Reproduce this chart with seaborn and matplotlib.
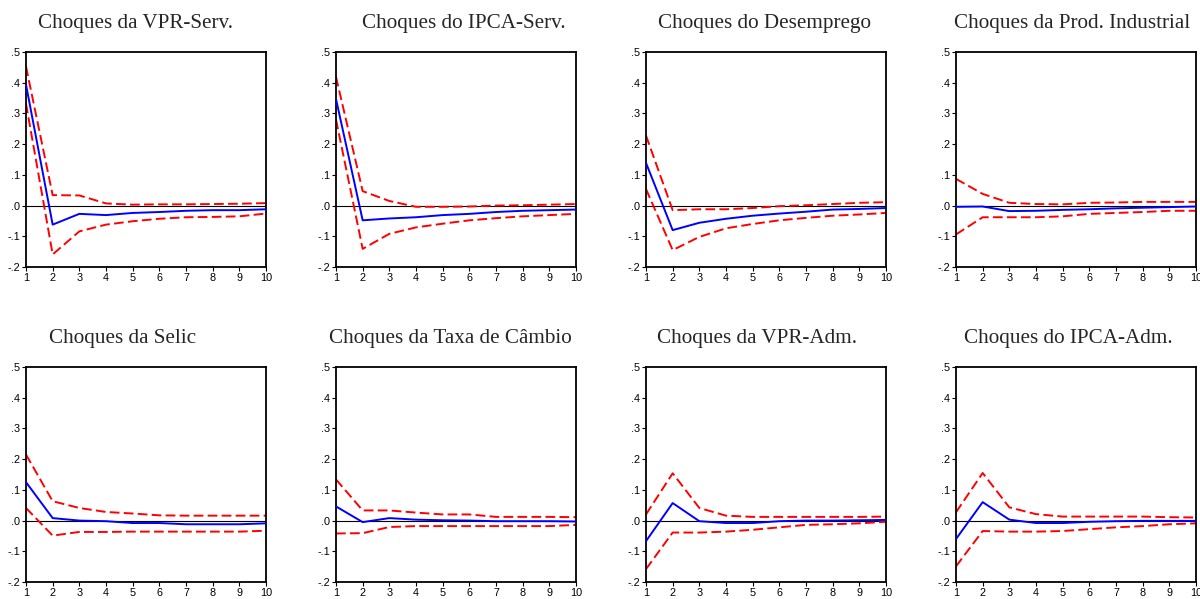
import numpy as np
import pandas as pd
import matplotlib
matplotlib.use("Agg")
import matplotlib.pyplot as plt
import seaborn as sns

# ---------------- data ----------------
periods = [1, 2, 3, 4, 5, 6, 7, 8, 9, 10]

titles = [
    "Choques da VPR-Serv.", "Choques do IPCA-Serv.", "Choques do Desemprego",
    "Choques da Prod. Industrial", "Choques da Selic", "Choques da Taxa de Câmbio",
    "Choques da VPR-Adm.", "Choques do IPCA-Adm.",
]

resp_vpr_serv = [0.394, -0.062, -0.027, -0.031, -0.024, -0.021, -0.017, -0.015, -0.015, -0.012]
up_vpr_serv = [0.453, 0.034, 0.033, 0.007, 0.003, 0.004, 0.004, 0.005, 0.006, 0.008]
lo_vpr_serv = [0.332, -0.159, -0.084, -0.062, -0.051, -0.043, -0.038, -0.037, -0.035, -0.026]

resp_ipca_serv = [0.347, -0.048, -0.042, -0.038, -0.031, -0.027, -0.021, -0.017, -0.015, -0.013]
up_ipca_serv = [0.419, 0.047, 0.015, -0.004, -0.004, -0.003, 0.000, 0.001, 0.003, 0.005]
lo_ipca_serv = [0.280, -0.141, -0.092, -0.071, -0.059, -0.048, -0.041, -0.035, -0.031, -0.027]

resp_desemp = [0.139, -0.080, -0.056, -0.043, -0.033, -0.026, -0.020, -0.013, -0.011, -0.008]
up_desemp = [0.228, -0.015, -0.012, -0.012, -0.008, -0.002, 0.001, 0.005, 0.009, 0.011]
lo_desemp = [0.054, -0.145, -0.102, -0.074, -0.060, -0.048, -0.040, -0.033, -0.029, -0.024]

resp_prod = [-0.004, -0.003, -0.018, -0.017, -0.014, -0.012, -0.009, -0.007, -0.005, -0.003]
up_prod = [0.087, 0.038, 0.009, 0.005, 0.004, 0.009, 0.010, 0.012, 0.012, 0.012]
lo_prod = [-0.094, -0.038, -0.038, -0.038, -0.035, -0.027, -0.024, -0.021, -0.017, -0.017]

resp_selic = [0.125, 0.008, 0.000, -0.002, -0.008, -0.008, -0.012, -0.012, -0.012, -0.009]
up_selic = [0.215, 0.063, 0.041, 0.028, 0.023, 0.017, 0.016, 0.016, 0.016, 0.016]
lo_selic = [0.041, -0.049, -0.037, -0.037, -0.036, -0.036, -0.036, -0.036, -0.036, -0.033]

resp_cambio = [0.046, -0.005, 0.008, 0.003, 0.001, 0.000, -0.002, -0.002, -0.002, -0.003]
up_cambio = [0.134, 0.033, 0.033, 0.026, 0.020, 0.020, 0.012, 0.012, 0.012, 0.011]
lo_cambio = [-0.042, -0.041, -0.021, -0.018, -0.018, -0.018, -0.018, -0.018, -0.018, -0.014]

resp_vpr_adm = [-0.067, 0.057, -0.002, -0.008, -0.008, -0.002, 0.000, 0.000, 0.001, 0.002]
up_vpr_adm = [0.020, 0.154, 0.041, 0.016, 0.012, 0.012, 0.012, 0.012, 0.012, 0.013]
lo_vpr_adm = [-0.158, -0.039, -0.039, -0.036, -0.030, -0.022, -0.014, -0.012, -0.009, -0.004]

resp_ipca_adm = [-0.060, 0.060, 0.003, -0.008, -0.008, -0.004, -0.002, -0.001, -0.001, -0.001]
up_ipca_adm = [0.027, 0.155, 0.043, 0.021, 0.013, 0.013, 0.013, 0.013, 0.011, 0.010]
lo_ipca_adm = [-0.149, -0.034, -0.036, -0.036, -0.034, -0.028, -0.022, -0.018, -0.012, -0.009]

y_ticks = [-0.2, -0.1, 0.0, 0.1, 0.2, 0.3, 0.4, 0.5]
y_tick_labels = ["-.2", "-.1", ".0", ".1", ".2", ".3", ".4", ".5"]

panels = [
    (resp_vpr_serv, up_vpr_serv, lo_vpr_serv),
    (resp_ipca_serv, up_ipca_serv, lo_ipca_serv),
    (resp_desemp, up_desemp, lo_desemp),
    (resp_prod, up_prod, lo_prod),
    (resp_selic, up_selic, lo_selic),
    (resp_cambio, up_cambio, lo_cambio),
    (resp_vpr_adm, up_vpr_adm, lo_vpr_adm),
    (resp_ipca_adm, up_ipca_adm, lo_ipca_adm),
]

# ---------------- style / layout ----------------
sns.set_style("ticks")
plt.rcParams["font.family"] = ["Liberation Sans", "DejaVu Sans"]

W, H = 1200, 599
fig = plt.figure(figsize=(W / 100, H / 100), dpi=100)

col_left_px = [26, 336, 646, 956]
row_top_px = [52, 367]
ax_w_px, ax_h_px = 240, 215
title_center_px = [135, 464, 765, 1072, 123, 450, 757, 1068]

red_dash = (0, (5.0, 2.2))

for i, (resp, up, lo) in enumerate(panels):
    r, c = divmod(i, 4)
    L = col_left_px[c]
    T = row_top_px[r]
    ax = fig.add_axes([L / W, (H - T - ax_h_px) / H, ax_w_px / W, ax_h_px / H])
    ax.axhline(0, color="black", lw=0.8, zorder=1)
    df = pd.DataFrame({"period": periods, "resp": resp, "up": up, "lo": lo})
    sns.lineplot(data=df, x="period", y="up", ax=ax, color="#FF0000", lw=1.4,
                 linestyle=red_dash, zorder=2)
    sns.lineplot(data=df, x="period", y="lo", ax=ax, color="#FF0000", lw=1.4,
                 linestyle=red_dash, zorder=2)
    sns.lineplot(data=df, x="period", y="resp", ax=ax, color="#0000FF", lw=1.4,
                 zorder=3)
    ax.set_xlim(1, 10)
    ax.set_ylim(-0.2, 0.5)
    ax.set_xticks(periods)
    ax.set_xticklabels([str(p) for p in periods])
    ax.set_yticks(y_ticks)
    ax.set_yticklabels(y_tick_labels)
    ax.set_xlabel("")
    ax.set_ylabel("")
    for s in ax.spines.values():
        s.set_visible(True)
        s.set_color("black")
        s.set_linewidth(1.3)
    ax.tick_params(axis="both", direction="out", length=3, width=0.8,
                   labelsize=7.8, pad=1, colors="black")
    tx = title_center_px[i] / W
    ty = (H - T + 24) / H
    fig.text(tx, ty, titles[i], ha="center", va="baseline",
             fontsize=15.2, family=["Liberation Serif", "DejaVu Serif"])

fig.savefig("out.png", dpi=100)
